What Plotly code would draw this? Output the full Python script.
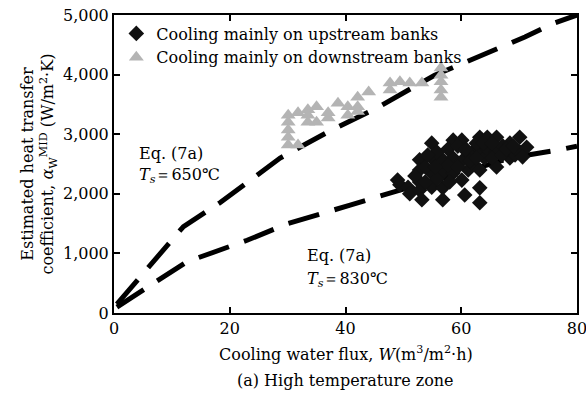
import plotly.graph_objects as go

# Measured heat transfer coefficients (W/m2K) vs cooling water flux (m3/m2h)
down_x = [30.1, 30.1, 30.1, 30.1, 30.1, 31.8, 31.8, 33.5, 33.5, 33.5, 35.0, 35.0,
          37.0, 37.0, 38.7, 40.4, 40.4, 42.1, 42.1, 42.1, 44.0, 47.7, 47.7,
          49.4, 51.1, 53.2, 56.5, 56.5, 56.5, 56.5, 56.5]
down_y = [3320, 3200, 3070, 2950, 2820, 3360, 2820, 3410, 3320, 3200, 3460, 3200,
          3270, 3360, 3520, 3460, 3320, 3620, 3460, 3380, 3710, 3860, 3740,
          3880, 3860, 3860, 4110, 3990, 3880, 3740, 3620]

up_x = [49.0, 49.4, 50.8, 51.1, 52.8, 52.8, 52.8, 52.8, 53.2, 54.9, 54.9, 54.9, 54.9,
        56.8, 56.8, 56.8, 56.8, 58.6, 58.6, 58.6, 60.1, 60.1, 60.1, 60.6, 61.2,
        62.0, 62.0, 63.2, 63.2, 63.2, 63.2, 63.2, 64.0, 64.5, 64.5, 66.1, 66.1, 66.1,
        67.2, 68.4, 68.4, 69.3, 70.1, 70.1, 71.3,
        52.0, 53.8, 53.8, 55.8, 55.8, 57.7, 57.7, 59.4, 59.4, 61.0, 61.5, 62.6, 62.6,
        63.8, 65.3, 65.3, 67.0, 67.8, 69.0, 70.6, 60.8, 58.0, 55.5, 54.2]
up_y = [2230, 2150, 2110, 2000, 2570, 2400, 2200, 2060, 1900, 2850, 2600, 2350, 2110,
        2570, 2350, 2100, 1900, 2900, 2600, 2350, 2900, 2550, 2230, 1980, 2400,
        2700, 2500, 2950, 2700, 2400, 2100, 1850, 2600, 2950, 2750, 2950, 2700, 2450,
        2800, 2850, 2600, 2650, 2950, 2700, 2780,
        2300, 2450, 2200, 2700, 2250, 2750, 2480, 2800, 2450, 2700, 2550, 2850, 2600,
        2850, 2850, 2600, 2650, 2750, 2800, 2620, 2750, 2200, 2450, 2650]

# Eq. (7a) curves for two surface temperatures
eq650_x = [0.5, 6.7, 12.0, 18.3, 28.7, 37.0, 45.4, 55.4, 61.5, 67.2, 71.0, 76.2, 80.0]
eq650_y = [150, 840, 1450, 1850, 2600, 3040, 3440, 3990, 4240, 4460, 4630, 4870, 5000]
eq830_x = [0.5, 12.6, 23.0, 30.0, 40.8, 50.0, 60.0, 68.4, 76.5, 80.0]
eq830_y = [100, 860, 1220, 1500, 1810, 2080, 2350, 2600, 2730, 2800]

x_ticks = [0, 20, 40, 60, 80]
y_ticks = [0, 1000, 2000, 3000, 4000, 5000]

SERIF = "DejaVu Serif"
dash = "32px,16px"

fig = go.Figure()
fig.add_trace(go.Scatter(x=eq650_x, y=eq650_y, mode="lines", showlegend=False,
                         line=dict(color="black", width=5, dash=dash)))
fig.add_trace(go.Scatter(x=eq830_x, y=eq830_y, mode="lines", showlegend=False,
                         line=dict(color="black", width=5, dash=dash)))
fig.add_trace(go.Scatter(x=up_x, y=up_y, mode="markers",
                         name="Cooling mainly on upstream banks",
                         marker=dict(symbol="diamond", size=12, color="#111111")))
fig.add_trace(go.Scatter(x=down_x, y=down_y, mode="markers",
                         name="Cooling mainly on downstream banks",
                         marker=dict(symbol="triangle-up", size=13, color="#b4b4b4")))

axis_common = dict(showline=True, linecolor="black", linewidth=2, mirror="ticks",
                   ticks="inside", ticklen=6, tickwidth=1.5, tickcolor="black",
                   showgrid=False, zeroline=False, automargin=False,
                   ticklabeloverflow="allow",
                   tickfont=dict(family=SERIF, size=16, color="black"))

fig.update_xaxes(range=[0, 80], tickvals=x_ticks, ticktext=[str(v) for v in x_ticks],
                 **axis_common)
fig.update_yaxes(range=[0, 5000], tickvals=y_ticks,
                 ticktext=[f"{v:,}" for v in y_ticks], **axis_common)

annots = [
    dict(x=4.0, y=2680, text="Eq. (7a)", xanchor="left"),
    dict(x=4.0, y=2300, text="<i>T</i><sub><i>s</i></sub>＝650℃", xanchor="left"),
    dict(x=33.0, y=960, text="Eq. (7a)", xanchor="left"),
    dict(x=33.0, y=570, text="<i>T</i><sub><i>s</i></sub>＝830℃", xanchor="left"),
]
for a in annots:
    fig.add_annotation(xref="x", yref="y", showarrow=False, yanchor="middle",
                       font=dict(family=SERIF, size=16, color="black"), **a)

fig.add_annotation(xref="paper", yref="paper", x=0.5, y=-0.135, yanchor="middle",
                   showarrow=False,
                   text="Cooling water flux, <i>W</i>(m<sup>3</sup>/m<sup>2</sup>·h)",
                   font=dict(family=SERIF, size=16, color="black"))
fig.add_annotation(xref="paper", yref="paper", x=0.5, y=-0.225, yanchor="middle",
                   showarrow=False, text="(a) High temperature zone",
                   font=dict(family=SERIF, size=16, color="black"))
fig.add_annotation(xref="paper", yref="paper", x=-0.163, y=0.5, xanchor="center",
                   showarrow=False, textangle=-90,
                   text="Estimated heat transfer<br>coefficient, <i>α</i><sub>W</sub><sup>MID</sup> (W/m<sup>2</sup>·K)",
                   font=dict(family=SERIF, size=16, color="black"))

fig.update_layout(
    width=586, height=398,
    margin=dict(l=114, r=9, t=15, b=85, autoexpand=False),
    paper_bgcolor="white", plot_bgcolor="white",
    legend=dict(x=0.005, y=0.995, xanchor="left", yanchor="top",
                bgcolor="rgba(0,0,0,0)", font=dict(family=SERIF, size=16, color="black"),
                tracegroupgap=0),
)

fig.write_html("out.html")
